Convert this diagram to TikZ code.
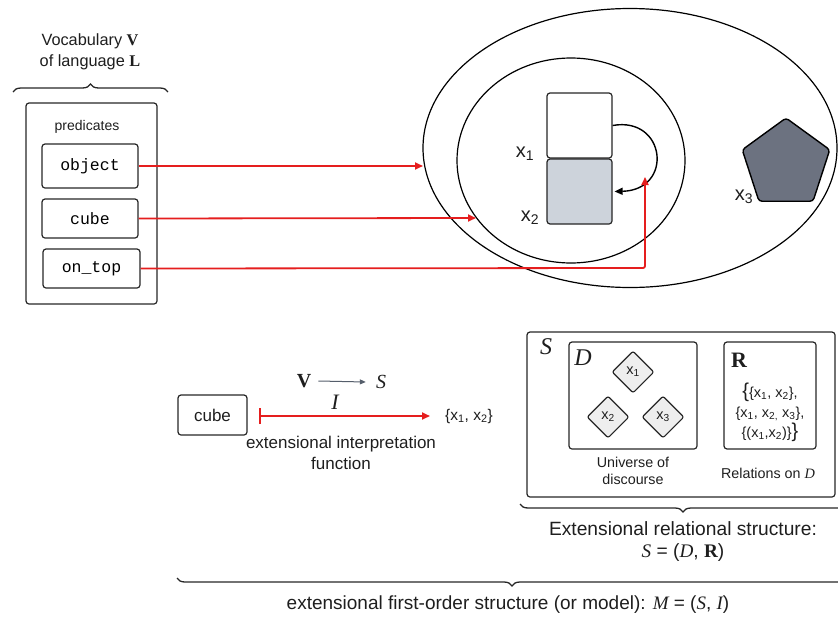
\documentclass[tikz,border=0pt]{standalone}
\usepackage{fontspec}
\setmainfont{Liberation Sans}
\setmonofont{Liberation Mono}
\newfontfamily\seriff{Liberation Serif}
\usetikzlibrary{arrows.meta,shapes.geometric,decorations.pathreplacing}
\definecolor{redl}{HTML}{E51E1E}
\definecolor{txt}{HTML}{1E1E1E}
\definecolor{slate}{HTML}{555E6B}
\definecolor{cubegray}{HTML}{CDD3DB}
\definecolor{pentgray}{HTML}{6C7280}
\definecolor{diagray}{HTML}{EEEEEE}
\newcommand{\vit}[1]{{\seriff\itshape #1}}
\newcommand{\vbf}[1]{{\seriff\bfseries #1}}
\begin{document}
\begin{tikzpicture}[x=1pt,y=-1pt,
  box/.style={draw=black!85,line width=1.2pt,rounded corners=3pt,inner sep=0pt},
  lbl/.style={text=txt,inner sep=0pt,align=center},
  redarr/.style={draw=redl,line width=1.8pt,-{Triangle[length=8pt,width=7pt]}},
  brace/.style={draw=black!85,line width=1.3pt,decorate,decoration={brace,amplitude=8pt}},
  ell/.style={draw=black,line width=1.2pt,ellipse,inner sep=0pt}]
\useasboundingbox (0,0) rectangle (838,616);
\clip (0,0) rectangle (838,616);
% vocabulary
\node[lbl,font=\fontsize{16.3}{20.5}\selectfont] (voc) at (90,52) {Vocabulary \vbf{V}\\of language \vbf{L}};
\coordinate (bl) at (13,92);
\coordinate (br) at (168,92);
\draw[brace] (bl) -- (br);
\node[box,minimum width=131pt,minimum height=201pt] (vbox) at (91.5,203.5) {};
\node[lbl,font=\fontsize{14}{16}\selectfont] (pred) at (87,127) {predicates};
\node[box,minimum width=96pt,minimum height=44pt,font=\ttfamily\fontsize{16.5}{18}\selectfont] (obj) at (90,166) {object};
\node[box,minimum width=96pt,minimum height=39pt,font=\ttfamily\fontsize{16.5}{18}\selectfont] (cub) at (90,218.5) {cube};
\node[box,minimum width=97pt,minimum height=39pt,font=\ttfamily\fontsize{16.5}{18}\selectfont] (ont) at (91.5,268.5) {on\_top};
% ellipses
\node[ell,minimum width=414pt,minimum height=279pt] (outer) at (630,148) {};
\node[ell,minimum width=228pt,minimum height=205pt] (inner) at (571,160.5) {};
% cubes
\node[box,fill=white,minimum width=65pt,minimum height=65pt] (tb) at (579.5,125.5) {};
\node[box,fill=cubegray,minimum width=65pt,minimum height=65pt] (bb) at (579.5,191.5) {};
\node[lbl,font=\fontsize{20}{22}\selectfont] (x1) at (525,154) {x\textsubscript{1}};
\node[lbl,font=\fontsize{20}{22}\selectfont] (x2) at (530,218) {x\textsubscript{2}};
\draw[black,line width=1.4pt,-{Triangle[length=8pt,width=7pt]}] (tb.east) .. controls (666,116) and (674,190) .. ([xshift=2pt]bb.east);
% pentagon
\node[draw=black,line width=1.4pt,fill=pentgray,regular polygon,regular polygon sides=5,minimum size=92pt,inner sep=0pt,rounded corners=3pt] (pent) at (786,164) {};
\node[lbl,font=\fontsize{20}{22}\selectfont] (x3) at (744,197) {x\textsubscript{3}};
% red arrows
\coordinate (objend) at (423,166);
\coordinate (cubend) at (476,218);
\coordinate (ontcorner) at (645,268);
\coordinate (ontend) at (645,177);
\draw[redarr] (obj.east) -- (objend);
\draw[redarr] (cub.east) -- (cubend);
\draw[redarr,rounded corners=2pt] (ont.east) -- (ontcorner) -- (ontend);
% interpretation
\node[box,minimum width=69pt,minimum height=40pt,font=\fontsize{17}{18}\selectfont,text=txt] (cube2) at (212.5,415) {cube};
\node[lbl,font=\fontsize{15.5}{18}\selectfont] (set) at (469,416) {\{x\textsubscript{1}, x\textsubscript{2}\}};
\coordinate (mapstart) at (259,416);
\coordinate (mapend) at (430,416);
\draw[draw=redl,line width=1.8pt,{Bar[width=16pt,line width=1.8pt]}-{Triangle[length=8pt,width=7pt]}] (mapstart) -- (mapend);
\node[lbl,font=\fontsize{20}{22}\selectfont] (V) at (304,381) {\vbf{V}};
\node[lbl,font=\fontsize{20}{22}\selectfont] (S) at (381,382) {\vit{S}};
\draw[slate,line width=1pt,-{Triangle[length=6pt,width=5pt]}] ([xshift=7pt]V.east) -- ([xshift=-10pt]S.west);
\node[lbl,font=\fontsize{22}{24}\selectfont] (I) at (335,402) {\vit{I}};
\node[lbl,font=\fontsize{17}{21}\selectfont] (eif) at (341,453) {extensional interpretation\\function};
% relational structure
\node[box,minimum width=308pt,minimum height=165pt] (sbox) at (681,414.5) {};
\node[lbl,font=\fontsize{24}{26}\selectfont] (Slab) at (546,347) {\vit{S}};
\node[box,minimum width=128pt,minimum height=107pt] (dbox) at (633,395.5) {};
\node[lbl,font=\fontsize{24}{26}\selectfont] (Dlab) at (583,358) {\vit{D}};
\node[draw=black!85,line width=1.1pt,fill=diagray,diamond,aspect=1,minimum width=42pt,minimum height=42pt,inner sep=0pt,rounded corners=2pt,font=\fontsize{14.5}{16}\selectfont,text=txt] (d1) at (633,372) {x\textsubscript{1}};
\node[draw=black!85,line width=1.1pt,fill=diagray,diamond,aspect=1,minimum width=42pt,minimum height=42pt,inner sep=0pt,rounded corners=2pt,font=\fontsize{14.5}{16}\selectfont,text=txt] (d2) at (608,417) {x\textsubscript{2}};
\node[draw=black!85,line width=1.1pt,fill=diagray,diamond,aspect=1,minimum width=42pt,minimum height=42pt,inner sep=0pt,rounded corners=2pt,font=\fontsize{14.5}{16}\selectfont,text=txt] (d3) at (663,417) {x\textsubscript{3}};
\node[lbl,font=\fontsize{14.3}{17}\selectfont] (uod) at (633,470.5) {Universe of\\discourse};
\node[box,minimum width=92pt,minimum height=107pt] (rbox) at (770,395.5) {};
\node[lbl,font=\fontsize{22}{24}\selectfont] (Rlab) at (739,360) {\vbf{R}};
\node[lbl,font=\fontsize{14.5}{20}\selectfont] (rels) at (770,412) {{\fontsize{20}{20}\selectfont\{}\{x\textsubscript{1}, x\textsubscript{2}\},\\\{x\textsubscript{1}, x\textsubscript{2,} x\textsubscript{3}\},\\\{(x\textsubscript{1},x\textsubscript{2})\}{\fontsize{20}{20}\selectfont\}}};
\node[lbl,font=\fontsize{14.3}{17}\selectfont] (ron) at (768,473) {Relations on \vit{D}};
% braces
\coordinate (ub1) at (846,504);
\coordinate (ub2) at (520,504);
\draw[brace] (ub1) -- (ub2);
\node[lbl,font=\fontsize{19.2}{22}\selectfont] (ers) at (683,541.5) {Extensional relational structure:\\\vit{S} = (\vit{D}, \vbf{R})};
\coordinate (lb1) at (847,578);
\coordinate (lb2) at (177,578);
\draw[brace] (lb1) -- (lb2);
\node[lbl,font=\fontsize{19}{22}\selectfont] (efo) at (508,605) {extensional first-order structure (or model): \vit{M} = (\vit{S}, \vit{I})};
\end{tikzpicture}
\end{document}
